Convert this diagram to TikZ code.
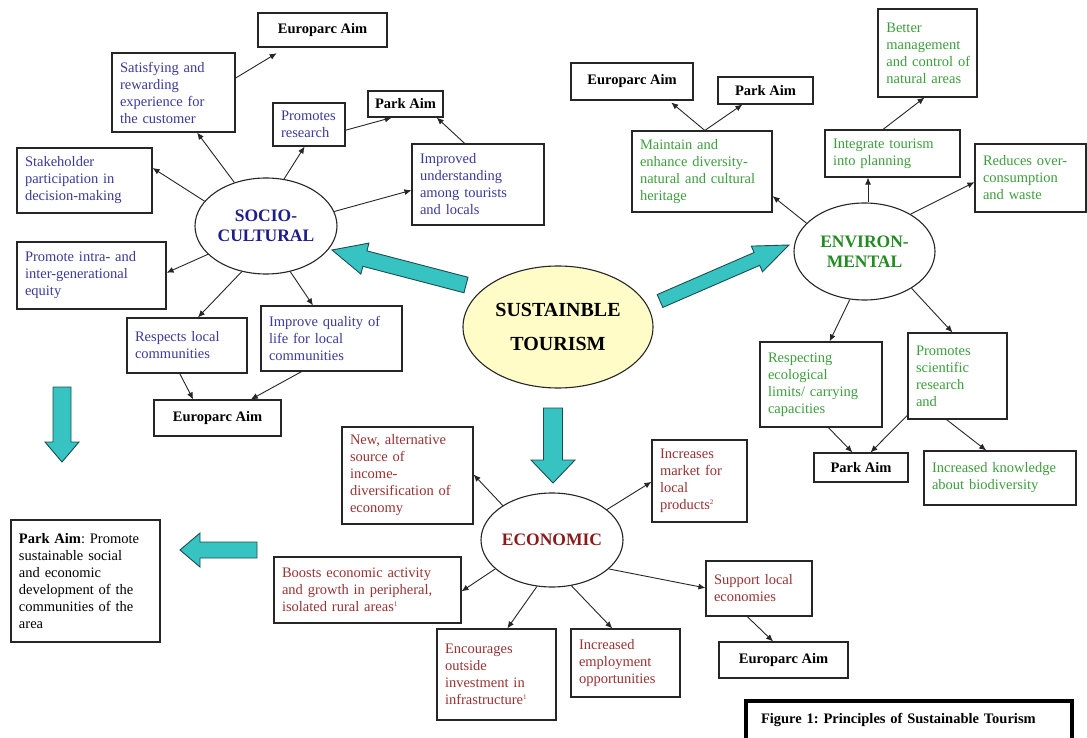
\documentclass[tikz,border=0pt]{standalone}
\usepackage{fontspec}
\setmainfont{Liberation Serif}
\usetikzlibrary{arrows.meta,calc,shapes.geometric}
\frenchspacing
\definecolor{sblue}{HTML}{3B3B9A}
\definecolor{stitle}{HTML}{1E1E8A}
\definecolor{egreen}{HTML}{3E9E3E}
\definecolor{etitle}{HTML}{228B22}
\definecolor{cred}{HTML}{993333}
\definecolor{ctitle}{HTML}{8B1A1A}
\definecolor{tealf}{HTML}{38C3C3}
\definecolor{teald}{HTML}{1D4D4D}
\definecolor{sunny}{HTML}{FFFCC8}
\newcommand\fnmark[1]{\textsuperscript{\fontsize{7}{7}\selectfont #1}}
\newcommand\tarr[5]{%
  \coordinate (hb) at ($(#2)!#5pt!(#1)$);
  \filldraw[tealarr] ($(#1)!#3pt!90:(#2)$) -- ($(hb)!#3pt!-90:(#1)$) -- ($(hb)!#4pt!-90:(#1)$) -- (#2)
     -- ($(hb)!#4pt!90:(#1)$) -- ($(hb)!#3pt!90:(#1)$) -- ($(#1)!#3pt!-90:(#2)$) -- cycle;}
\tikzset{
  box/.style={draw=black!85, line width=1.1pt, rectangle, inner xsep=8pt, inner ysep=4pt, align=left, font=\frenchspacing\fontsize{14.5}{17}\selectfont},
  sz/.code 2 args={\pgfmathsetlengthmacro\bxw{#1-16pt}\edef\bxtmp{\noexpand\tikzset{minimum width=#1pt,minimum height=#2pt,text width=\bxw}}\bxtmp},
  lab/.style={draw=black!85, line width=1.1pt, rectangle, inner sep=0pt, font=\bfseries\fontsize{14.5}{17}\selectfont, text=black},
  lsz/.style 2 args={minimum width=#1pt, minimum height=#2pt},
  ell/.style={draw=black!85, line width=1.1pt, fill=white, ellipse, inner sep=0pt, align=center, font=\bfseries\fontsize{17.5}{20}\selectfont},
  con/.style={draw=black!85, line width=0.9pt, -{Latex[length=7pt,width=6pt]}},
  tealarr/.style={fill=tealf, draw=teald, line width=0.9pt, line join=miter},
}
\begin{document}
\begin{tikzpicture}[x=1pt,y=-1pt]
\useasboundingbox (0,0) rectangle (1087,738);
\fill[white] (0,0) rectangle (1087,738);

% ---- teal arrows
\coordinate (t1) at (466,285); \coordinate (h1) at (332,250); \tarr{t1}{h1}{8}{16}{34}
\coordinate (t2) at (660,301); \coordinate (h2) at (789,245); \tarr{t2}{h2}{7}{14}{35}
\coordinate (t3) at (553,408); \coordinate (h3) at (553,483); \tarr{t3}{h3}{9.5}{22}{23}
\coordinate (t4) at (62,387);  \coordinate (h4) at (62,462);  \tarr{t4}{h4}{9}{17}{20}
\coordinate (t5) at (257,550); \coordinate (h5) at (180,550); \tarr{t5}{h5}{8}{17}{20}

% ---- central
\node[ell, fill=sunny, minimum width=190pt, minimum height=122pt, font=\bfseries\fontsize{20}{34}\selectfont] (st) at (558,327) {SUSTAINBLE\\TOURISM};

% ---- socio-cultural
\node[ell, text=stitle, minimum width=142pt, minimum height=96pt] (socio) at (266,226) {SOCIO-\\CULTURAL};
\node[lab, lsz={129}{34}] (sEA) at (322.5,30) {Europarc Aim};
\node[box, sz={123}{79}, text=sblue] (sSat) at (173.5,92.5) {Satisfying and\\rewarding\\experience for\\the customer};
\node[box, sz={72}{43}, inner xsep=6pt, text=sblue] (sPR) at (309,124.5) {Promotes\\research};
\node[lab, lsz={75}{26}] (sPA) at (405.5,104) {Park Aim};
\node[box, sz={132}{81}, text=sblue] (sIU) at (478,184.5) {Improved\\understanding\\among tourists\\and locals};
\node[box, sz={135}{65}, text=sblue] (sSH) at (84.5,180.5) {Stakeholder\\participation in\\decision-making};
\node[box, sz={149}{67}, text=sblue] (sPI) at (91.5,275.5) {Promote intra- and\\inter-generational\\equity};
\node[box, sz={120}{55}, text=sblue] (sRL) at (187,345.5) {Respects local\\communities};
\node[box, sz={141}{65}, text=sblue] (sIQ) at (331.5,338.5) {Improve quality of\\life for local\\communities};
\node[lab, lsz={127}{36}] (sEA2) at (217.5,418) {Europarc Aim};

\draw[con] (socio.158) -- ($(sSH.north east)!0.31!(sSH.south east)$);
\draw[con] (socio.126) -- ($(sSat.south west)!0.69!(sSat.south east)$);
\draw[con, shorten >=11pt] ($(sSat.north east)!0.32!(sSat.south east)$) -- ($(sEA.south west)!0.22!(sEA.south east)$);
\draw[con] (socio.69) -- ($(sPR.south west)!0.44!(sPR.south east)$);
\draw[con] ($(sPR.north east)!0.63!(sPR.south east)$) -- ($(sPA.south west)!0.32!(sPA.south east)$);
\draw[con] ($(sIU.north west)!0.40!(sIU.north east)$) -- ($(sPA.south west)!0.91!(sPA.south east)$);
\draw[con] (socio.12) -- ($(sIU.north west)!0.57!(sIU.south west)$);
\draw[con] (socio.206) -- ($(sPI.north east)!0.46!(sPI.south east)$);
\draw[con] (socio.242) -- ($(sRL.north west)!0.59!(sRL.north east)$);
\draw[con] (socio.298) -- ($(sIQ.north west)!0.37!(sIQ.north east)$);
\draw[con] ($(sRL.south west)!0.44!(sRL.south east)$) -- ($(sEA2.north west)!0.31!(sEA2.north east)$);
\draw[con] ($(sIQ.south west)!0.29!(sIQ.south east)$) -- ($(sEA2.north west)!0.76!(sEA2.north east)$);

% ---- environmental
\node[ell, text=etitle, minimum width=141pt, minimum height=97pt] (env) at (864.5,251.5) {ENVIRON-\\MENTAL};
\node[lab, lsz={122}{37}] (eEA) at (632,81.5) {Europarc Aim};
\node[lab, lsz={95}{27}] (ePA) at (765.5,90.5) {Park Aim};
\node[box, sz={140}{81}, text=egreen] (eMA) at (702,171.5) {Maintain and\\enhance diversity-\\natural and cultural\\heritage};
\node[box, sz={99}{88}, text width=92pt, inner xsep=3.5pt, text=egreen] (eBM) at (927.5,53) {~Better\\~management\\~and control of\\~natural areas};
\node[box, sz={135}{47}, text=egreen] (eIT) at (892.5,153.5) {Integrate tourism\\into planning};
\node[box, sz={111}{68}, text=egreen] (eRO) at (1030.5,178) {Reduces over-\\consumption\\and waste};
\node[box, sz={122}{85}, text=egreen] (eRE) at (821,384.5) {Respecting\\ecological\\limits/ carrying\\capacities};
\node[box, sz={99}{86}, text=egreen] (ePS) at (957.5,376) {Promotes\\scientific\\research\\and};
\node[lab, lsz={94}{29}] (ePA2) at (861,467.5) {Park Aim};
\node[box, sz={152}{54}, text=egreen] (eIK) at (1000,478) {Increased knowledge\\about biodiversity};

\coordinate (eit) at ($(eIT.south west)!0.32!(eIT.south east)$);
\draw[con] (env.154) -- ($(eMA.north east)!0.80!(eMA.south east)$);
\draw[con, shorten >=3pt] ($(eMA.north west)!0.52!(eMA.north east)$) -- ($(eEA.south west)!0.80!(eEA.south east)$);
\draw[con] ($(eMA.north west)!0.52!(eMA.north east)$) -- ($(ePA.south west)!0.26!(ePA.south east)$);
\draw[con] (env.north -| eit) -- (eit);
\draw[con] ($(eIT.north west)!0.43!(eIT.north east)$) -- ($(eBM.south west)!0.47!(eBM.south east)$);
\draw[con] (env.39) -- ($(eRO.north west)!0.56!(eRO.south west)$);
\draw[con] (env.253) -- ($(eRE.north west)!0.57!(eRE.north east)$);
\draw[con] (env.322) -- ($(ePS.north west)!0.45!(ePS.north east)$);
\draw[con] ($(eRE.south west)!0.56!(eRE.south east)$) -- ($(ePA2.north west)!0.41!(ePA2.north east)$);
\draw[con] ($(ePS.north west)!0.95!(ePS.south west)$) -- ($(ePA2.north west)!0.60!(ePA2.north east)$);
\draw[con] ($(ePS.south west)!0.39!(ePS.south east)$) -- ($(eIK.north west)!0.41!(eIK.north east)$);

% ---- economic
\node[ell, text=ctitle, minimum width=142pt, minimum height=94pt] (econ) at (552,540) {ECONOMIC};
\node[box, sz={131}{97}, text=cred] (cNA) at (407.5,475.5) {New, alternative\\source of\\income-\\diversification of\\economy};
\node[box, sz={95}{82}, text=cred] (cIM) at (699.5,481) {Increases\\market for\\local\\products\fnmark{2}};
\node[box, sz={187}{66}, text=cred] (cBE) at (367.5,590) {Boosts economic activity\\and growth in peripheral,\\isolated rural areas\fnmark{1}};
\node[box, sz={119}{91}, text=cred] (cEO) at (496.5,674.5) {Encourages\\outside\\investment in\\infrastructure\fnmark{1}};
\node[box, sz={109}{68}, text=cred] (cIE) at (625.5,663) {Increased\\employment\\opportunities};
\node[box, sz={106}{55}, text=cred] (cSL) at (759,588.5) {Support local\\economies};
\node[lab, lsz={129}{36}] (cEA) at (783.5,660) {Europarc Aim};

\draw[con] (econ.145) -- ($(cNA.north east)!0.49!(cNA.south east)$);
\draw[con] (econ.29) -- ($(cIM.north west)!0.51!(cIM.south west)$);
\draw[con] (econ.207) -- ($(cBE.north east)!0.52!(cBE.south east)$);
\draw[con] (econ.252) -- ($(cEO.north west)!0.59!(cEO.north east)$);
\draw[con] (econ.293) -- ($(cIE.north west)!0.38!(cIE.north east)$);
\draw[con] (econ.333) -- ($(cSL.north west)!0.49!(cSL.south west)$);
\draw[con] ($(cSL.south west)!0.39!(cSL.south east)$) -- ($(cEA.north west)!0.42!(cEA.north east)$);

% ---- park aim summary
\node[box, sz={149}{122}, text=black] (pa) at (85.5,581) {\textbf{Park Aim}: Promote\\sustainable social\\and economic\\development of the\\communities of the\\area};

% ---- caption
\node[draw=black, line width=4pt, anchor=north west, text width=296pt, inner xsep=15pt, inner ysep=12pt, text depth=30pt, align=left, font=\frenchspacing\bfseries\fontsize{14.5}{17}\selectfont] (cap) at (744,699) {Figure 1: Principles of Sustainable Tourism};
\end{tikzpicture}
\end{document}
